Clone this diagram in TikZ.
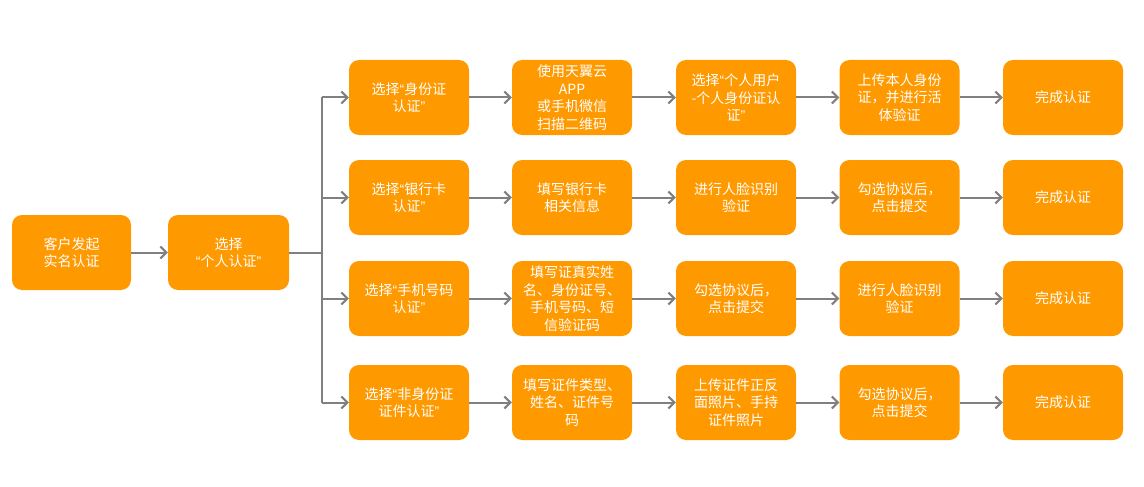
\documentclass[tikz,border=0pt]{standalone}
\usepackage{fontspec}
\setmainfont{Noto Sans CJK SC}
\newfontfamily\quotefont{Liberation Sans}
\newcommand{\qo}{{\quotefont “}}
\newcommand{\qc}{{\quotefont ”}}
\usetikzlibrary{arrows.meta}
\definecolor{boxor}{RGB}{255,153,0}
\definecolor{lgray}{RGB}{128,128,128}
\tikzset{
  box/.style={fill=boxor, draw=none, rounded corners=10pt, minimum width=120pt, minimum height=75pt,
    text=white, align=center, font=\fontsize{14}{17.5}\selectfont, inner sep=1pt, text width=118pt},
  conn/.style={draw=lgray, line width=2pt},
  arr/.style={conn, -{Straight Barb[length=6pt,width=12pt,line width=2pt]}}
}
\begin{document}
\begin{tikzpicture}[x=1pt,y=-1pt]
\useasboundingbox (0,0) rectangle (1144,487);
\node[box, minimum width=119pt, text width=117pt] (s) at (71.5,252.5) {客户发起\\实名认证};
\node[box, minimum width=121pt] (p) at (228.5,252.5) {选择\\\qo 个人认证\qc};
% rows
\node[box] (a1) at (409,97.5) {选择\qo 身份证\\认证\qc};
\node[box] (a2) at (572,97.5) {使用天翼云\\APP\\或手机微信\\扫描二维码};
\node[box] (a3) at (736,97.5) {选择\qo 个人用户\\-个人身份证认\\证\qc};
\node[box] (a4) at (899.5,97.5) {上传本人身份\\证，并进行活\\体验证};
\node[box] (a5) at (1063,97.5) {完成认证};
\node[box] (b1) at (409,197.5) {选择\qo 银行卡\\认证\qc};
\node[box] (b2) at (572,197.5) {填写银行卡\\相关信息};
\node[box] (b3) at (736,197.5) {进行人脸识别\\验证};
\node[box] (b4) at (899.5,197.5) {勾选协议后，\\点击提交};
\node[box] (b5) at (1063,197.5) {完成认证};
\node[box] (c1) at (409,298.5) {选择\qo 手机号码\\认证\qc};
\node[box] (c2) at (572,298.5) {填写证真实姓\\名、身份证号、\\手机号码、短\\信验证码};
\node[box] (c3) at (736,298.5) {勾选协议后，\\点击提交};
\node[box] (c4) at (899.5,298.5) {进行人脸识别\\验证};
\node[box] (c5) at (1063,298.5) {完成认证};
\node[box] (d1) at (409,402.5) {选择\qo 非身份证\\证件认证\qc};
\node[box] (d2) at (572,402.5) {填写证件类型、\\姓名、证件号\\码};
\node[box] (d3) at (736,402.5) {上传证件正反\\面照片、手持\\证件照片};
\node[box] (d4) at (899.5,402.5) {勾选协议后，\\点击提交};
\node[box] (d5) at (1063,402.5) {完成认证};
% branch points
\coordinate (bm) at (322,252.5);
\coordinate (ba) at (322,97.5);
\coordinate (bb) at (322,197.5);
\coordinate (bc) at (322,298.5);
\coordinate (bd) at (322,402.5);
\draw[arr] (s) -- (p);
\draw[conn] (p.east) -- (bm);
\draw[conn] (ba) -- (bd);
\foreach \r in {a,b,c,d}{
  \draw[arr] (b\r) -- (\r1);
  \draw[arr] (\r1) -- (\r2);
  \draw[arr] (\r2) -- (\r3);
  \draw[arr] (\r3) -- (\r4);
  \draw[arr] (\r4) -- (\r5);
}
\end{tikzpicture}
\end{document}
